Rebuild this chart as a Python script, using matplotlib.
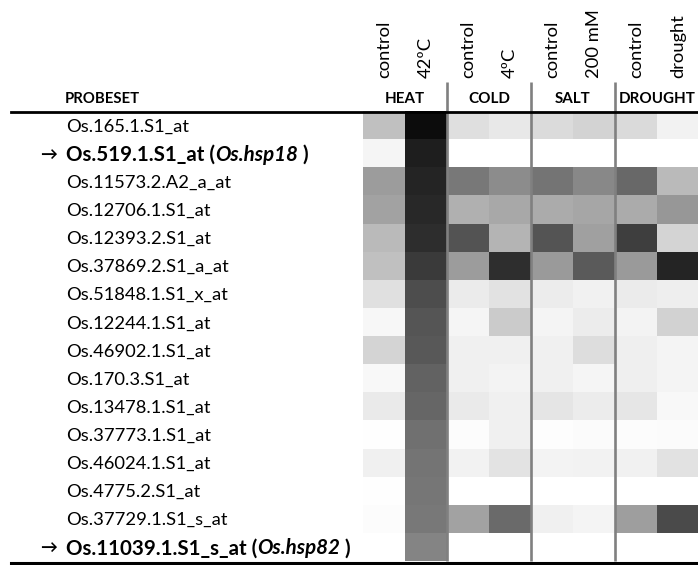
import matplotlib
matplotlib.use("Agg")
import matplotlib.pyplot as plt
import matplotlib.transforms as mtransforms
from matplotlib.lines import Line2D
import numpy as np

plt.rcParams['font.family'] = ['Lato', 'DejaVu Sans']

probesets = ['Os.165.1.S1_at', 'Os.519.1.S1_at', 'Os.11573.2.A2_a_at',
             'Os.12706.1.S1_at', 'Os.12393.2.S1_at', 'Os.37869.2.S1_a_at',
             'Os.51848.1.S1_x_at', 'Os.12244.1.S1_at', 'Os.46902.1.S1_at',
             'Os.170.3.S1_at', 'Os.13478.1.S1_at', 'Os.37773.1.S1_at',
             'Os.46024.1.S1_at', 'Os.4775.2.S1_at', 'Os.37729.1.S1_s_at',
             'Os.11039.1.S1_s_at']
genes = {1: 'Os.hsp18', 15: 'Os.hsp82'}   # highlighted rows
conditions = ['control', '42ºC', 'control', '4ºC', 'control', '200 mM',
              'control', 'drought']
stresses = ['HEAT', 'COLD', 'SALT', 'DROUGHT']

# shading of each cell (0 = white, 255 = black), [control, treated]
heat = [[63, 243], [10, 225], [99, 219], [93, 215], [69, 210], [63, 197],
        [31, 178], [8, 170], [43, 167], [7, 157], [21, 153], [1, 143],
        [15, 139], [1, 137], [3, 135], [0, 123]]
cold = [[32, 23], [0, 0], [135, 115], [79, 87], [172, 75], [99, 209],
        [20, 29], [10, 52], [15, 15], [15, 12], [21, 15], [3, 15],
        [13, 28], [0, 0], [93, 149], [0, 0]]
salt = [[36, 44], [0, 0], [139, 119], [84, 89], [171, 95], [101, 165],
        [19, 14], [11, 19], [15, 34], [15, 10], [26, 19], [2, 4],
        [12, 13], [0, 0], [15, 11], [0, 0]]
drought = [[37, 13], [0, 0], [151, 69], [84, 104], [193, 43], [101, 219],
           [20, 17], [12, 45], [16, 11], [16, 11], [25, 7], [3, 4],
           [14, 29], [0, 0], [97, 181], [0, 0]]

W, H = 698, 565
fig = plt.figure(figsize=(W / 100, H / 100), dpi=100)
renderer = fig.canvas.get_renderer()


def fit(text, width_px, **kw):
    # font size that gives the text the wanted width in pixels
    t = fig.text(0, 0, text, fontsize=10, **kw)
    w = t.get_window_extent(renderer).width
    t.remove()
    return 10 * width_px / w


fs = fit('Os.11573.2.A2_a_at', 164)
fs_bold = fit('Os.519.1.S1_at (Os.hsp18 )', 246, fontweight='bold')
fs_cond = fit('control', 58)
fs_probe = fit('PROBESET', 75, fontweight='bold')
fs_group = fit('HEAT', 40, fontweight='bold')

ax = fig.add_axes([363 / W, 4 / H, 336 / W, 450 / H])

data = np.hstack([np.array(heat), np.array(cold), np.array(salt), np.array(drought)])
ax.pcolormesh(np.arange(9), np.arange(17), data, cmap='gray_r', vmin=0, vmax=255)
ax.set_xlim(0, 8)
ax.set_ylim(16, 0)
ax.axis('off')

# separators between stress groups
ax.vlines([2, 4, 6], -1.03, 16, colors='#808080', linewidth=1.9, clip_on=False)

# top and bottom rules
fig.add_artist(Line2D([11 / W, 1], [1 - 111.5 / H, 1 - 111.5 / H], color='black', linewidth=2.0))
fig.add_artist(Line2D([11 / W, 1], [1 - 562.5 / H, 1 - 562.5 / H], color='black', linewidth=2.2))

for i, c in enumerate(conditions):
    ax.text(i + 0.5, -1.17, c, rotation=90, ha='center', va='bottom', fontsize=fs_cond)
for j, s in enumerate(stresses):
    ax.text(2 * j + 1, -0.27, s, ha='center', va='baseline', fontsize=fs_group, fontweight='bold')

trans = mtransforms.blended_transform_factory(fig.transFigure, ax.transData)
ax.text(65 / W, -0.27, 'PROBESET', transform=trans, ha='left', va='baseline',
        fontsize=fs_probe, fontweight='bold')

for r, name in enumerate(probesets):
    y = r + 0.55
    if r in genes:
        ax.text(40 / W, y, '→', transform=trans, ha='left', va='center', fontsize=fs - 1,
                fontweight='bold')
        x = 66 / W
        for txt, style in [(name + ' (', 'normal'), (genes[r], 'italic'), (' )', 'normal')]:
            t = ax.text(x, y, txt, transform=trans, ha='left', va='center', fontsize=fs_bold,
                        fontweight='bold', fontstyle=style)
            x = t.get_window_extent(renderer).x1 / W
    else:
        ax.text(66 / W, y, name, transform=trans, ha='left', va='center', fontsize=fs)

fig.savefig('out.png', dpi=100)
